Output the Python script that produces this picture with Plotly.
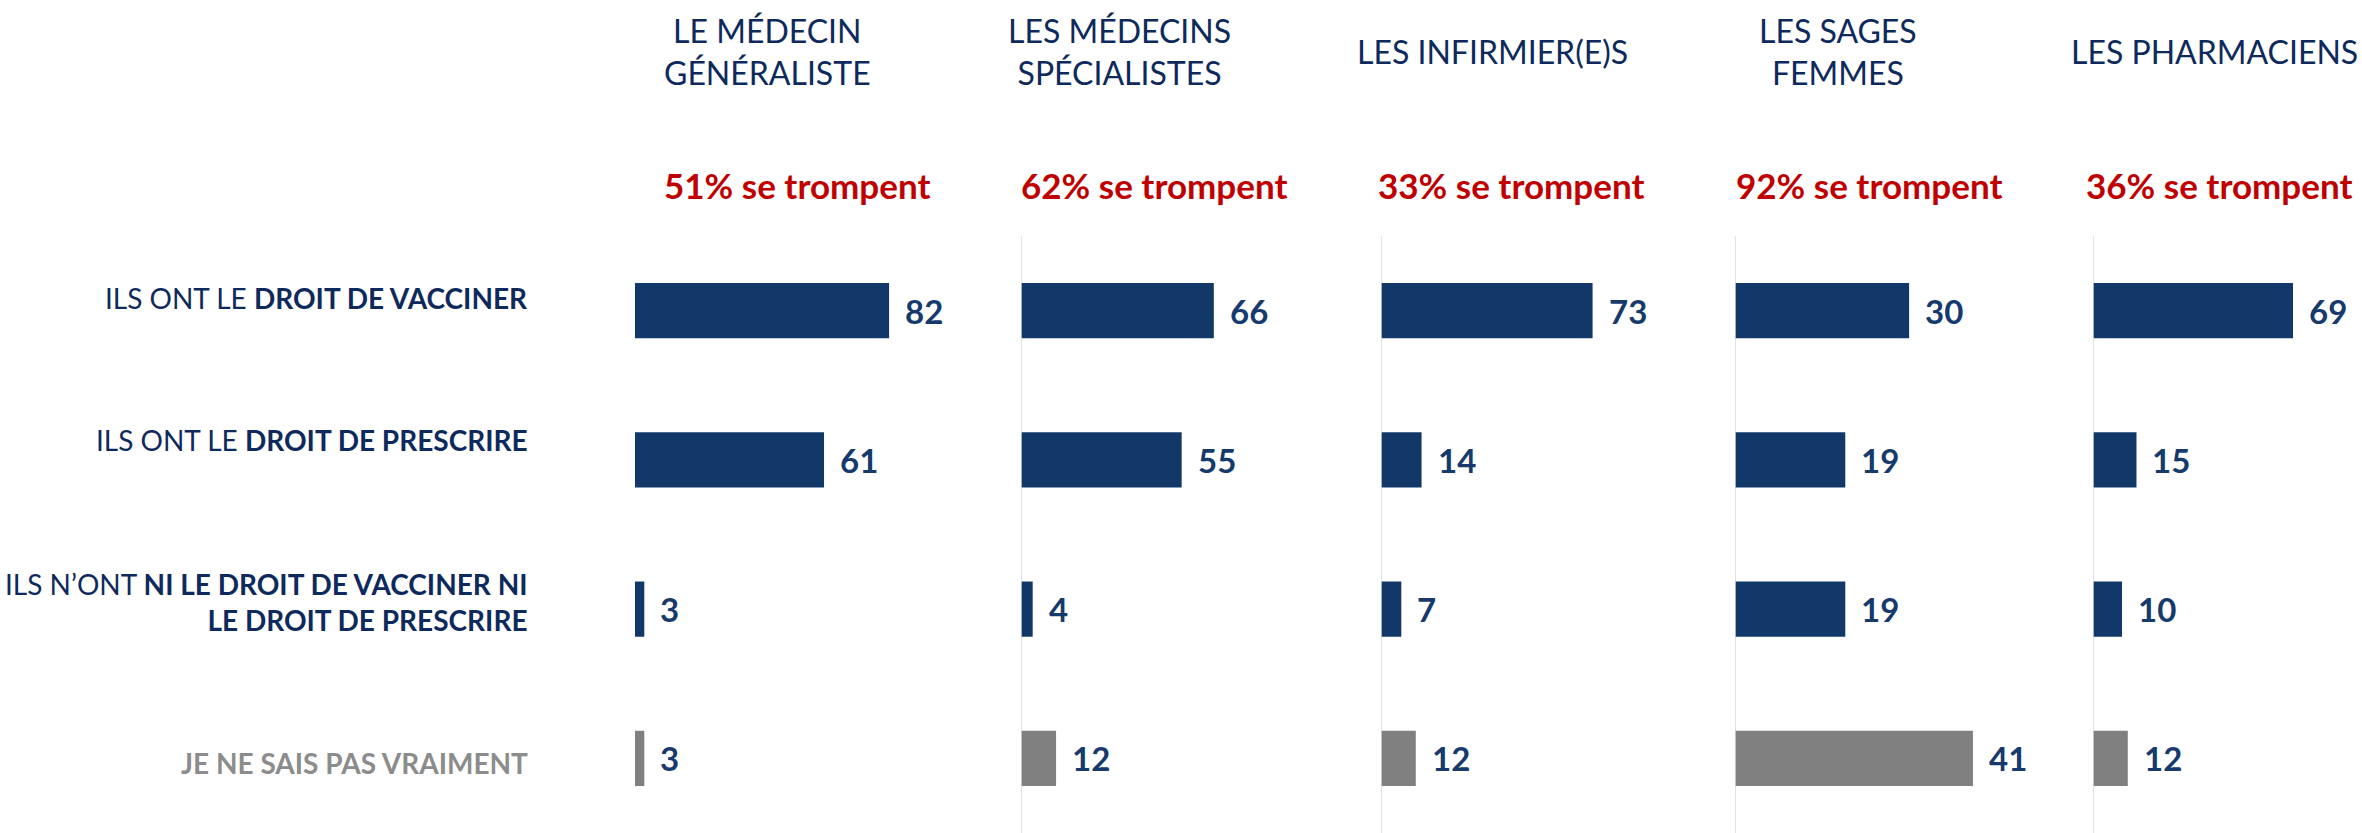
import plotly.graph_objects as go

# data
professions = ["LE MÉDECIN<br>GÉNÉRALISTE", "LES MÉDECINS<br>SPÉCIALISTES",
               "LES INFIRMIER(E)S", "LES SAGES<br>FEMMES", "LES PHARMACIENS"]
se_trompent = [51, 62, 33, 92, 36]
answers = ["vacciner", "prescrire", "aucun", "nsp"]
answer_labels = ["ILS ONT LE <b>DROIT DE VACCINER</b>",
                 "ILS ONT LE <b>DROIT DE PRESCRIRE</b>",
                 "ILS N’ONT <b>NI LE DROIT DE VACCINER NI</b><br><b>LE DROIT DE PRESCRIRE</b>",
                 "<b>JE NE SAIS PAS VRAIMENT</b>"]
medecin_generaliste = [82, 61, 3, 3]
medecins_specialistes = [66, 55, 4, 12]
infirmiers = [73, 14, 7, 12]
sages_femmes = [30, 19, 19, 41]
pharmaciens = [69, 15, 10, 12]
series = [medecin_generaliste, medecins_specialistes, infirmiers, sages_femmes, pharmaciens]

W, H = 2362, 833
FONT = "Lato"
NAVY = "#12386a"
DARK = "#0e2a5c"
GREY = "#808080"
RED = "#c00000"

panel_left = [635, 1021, 1381, 1735, 2093]   # px
panel_w = 260
x_max = [83.9, 89.0, 89.7, 44.8, 89.7]       # scale of each panel
header_x = [768, 1119, 1492, 1838, 2214]
red_x = [797, 1154, 1511, 1869, 2219]
y_top = 236

bar_colors = [NAVY, NAVY, NAVY, GREY]

fig = go.Figure()
layout_axes = {}
for i, vals in enumerate(series):
    ax = "" if i == 0 else str(i + 1)
    fig.add_trace(go.Bar(
        x=vals, y=answers, orientation="h",
        marker=dict(color=bar_colors, line=dict(width=0)),
        width=0.37, xaxis="x" + ax, yaxis="y", showlegend=False,
        hoverinfo="skip"))
    layout_axes["xaxis" + ax] = dict(
        domain=[panel_left[i] / W, (panel_left[i] + panel_w) / W],
        range=[0, x_max[i]], anchor="y",
        showgrid=False, zeroline=False, showticklabels=False, showline=False)
    # value labels
    for a, v in zip(answers, vals):
        fig.add_annotation(x=v, y=a, xref="x" + ax, yref="y", text="<b>%d</b>" % v,
                           showarrow=False, xanchor="left", xshift=14,
                           font=dict(family=FONT, size=33, color="#153a6b"))
    # vertical reference line
    if i > 0:
        fig.add_shape(type="line", xref="x" + ax, yref="paper",
                      x0=0, x1=0, y0=0, y1=1 - y_top / H,
                      line=dict(color="#d9d9d9", width=1.5))
    # headers
    fig.add_annotation(x=header_x[i] / W, y=1 - 52 / H,
                       xref="paper", yref="paper", text=professions[i],
                       showarrow=False, xanchor="center", yanchor="middle",
                       font=dict(family=FONT, size=32, color=DARK))
    fig.add_annotation(x=red_x[i] / W, y=1 - 185 / H, xref="paper", yref="paper",
                       text="<b>%d%% se trompent</b>" % se_trompent[i],
                       showarrow=False, xanchor="center", yanchor="middle",
                       font=dict(family=FONT, size=35, color=RED))

label_shift = [13, 20, 7, -5]
for a, lab, sh in zip(answers, answer_labels, label_shift):
    fig.add_annotation(x=530 / W, y=a, xref="paper", yref="y", text=lab,
                       showarrow=False, xanchor="right", yanchor="middle", align="right",
                       yshift=sh,
                       font=dict(family=FONT, size=28,
                                 color="#8c8c8c" if a == "nsp" else DARK))

fig.update_layout(
    width=W, height=H, margin=dict(l=0, r=0, t=0, b=0),
    paper_bgcolor="white", plot_bgcolor="white",
    bargap=0.63,
    yaxis=dict(domain=[0, 1 - y_top / H], type="category", categoryarray=answers,
               autorange="reversed", showticklabels=False, showgrid=False,
               zeroline=False, showline=False),
    **layout_axes)

fig.write_html("out.html", config={"displayModeBar": False},
               post_script="document.body.style.margin='0';")
